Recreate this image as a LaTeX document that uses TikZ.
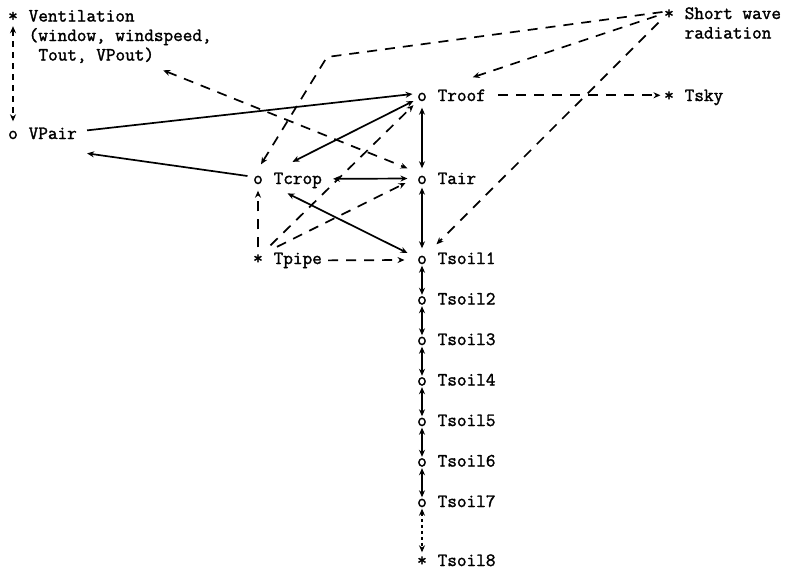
\documentclass[tikz,border=0pt]{standalone}
\usepackage{fontspec}
\newfontfamily\tyfont{Latin Modern Mono}[FakeBold=1.6]
\usetikzlibrary{arrows.meta,calc}

\tikzset{
  every node/.style={font=\fontsize{18.7}{19.5}\selectfont\tyfont, inner sep=0pt},
  mk/.style={anchor=base, inner sep=1.5pt, text height=8pt, text depth=0pt},
  lbl/.style={anchor=base west},
  conn/.style={line width=1.7pt, line cap=butt},
  tipend/.style={-{Stealth[length=7pt,width=6pt]}},
  tipboth/.style={{Stealth[length=7pt,width=6pt]}-{Stealth[length=7pt,width=6pt]}},
  dsh/.style={dash pattern=on 10pt off 8pt},
  dshs/.style={dash pattern=on 6pt off 5pt},
  dshf/.style={dash pattern=on 3pt off 3pt},
}

\begin{document}
\begin{tikzpicture}[x=1pt,y=-1pt]
  \useasboundingbox (0,0) rectangle (789,573);

  % --- state variables (o) and driving inputs (*) ---
  \node[mk] (vent) at (13,21.5) {*};
  \node[lbl] (vent-l)  at ([xshift=15.5pt]vent.base) {Ventilation};
  \node[lbl] (vent-l2) at ([xshift=15.5pt,yshift=-19.5pt]vent.base) {(window, windspeed,};
  \node[lbl] (vent-l3) at ([xshift=25.3pt,yshift=-39pt]vent.base) {Tout, VPout)};

  \node[mk] (vpair) at (13,139) {o};
  \node[lbl] (vpair-l) at ([xshift=15.5pt]vpair.base) {VPair};

  \node[mk] (troof) at (422,101) {o};
  \node[lbl] (troof-l) at ([xshift=15.5pt]troof.base) {Troof};

  \node[mk] (tair) at (422,184) {o};
  \node[lbl] (tair-l) at ([xshift=15.5pt]tair.base) {Tair};

  \node[mk] (tcrop) at (258,184) {o};
  \node[lbl] (tcrop-l) at ([xshift=15.5pt]tcrop.base) {Tcrop};

  \node[mk] (tpipe) at (258,264) {*};
  \node[lbl] (tpipe-l) at ([xshift=15.5pt]tpipe.base) {Tpipe};

  \foreach \k/\b in {1/264,2/304.5,3/345,4/385.5,5/426,6/466.5,7/507}{
    \node[mk] (tsoil\k) at (422,\b) {o};
    \node[lbl] (tsoil\k-l) at ([xshift=15.5pt]tsoil\k.base) {Tsoil\k};
  }
  \node[mk] (tsoil8) at (422,566) {*};
  \node[lbl] (tsoil8-l) at ([xshift=15.5pt]tsoil8.base) {Tsoil8};

  \node[mk] (short) at (669,19) {*};
  \node[lbl] (short-l)  at ([xshift=15.5pt]short.base) {Short wave};
  \node[lbl] (short-l2) at ([xshift=15.5pt,yshift=-19.5pt]short.base) {radiation};

  \node[mk] (tsky) at (669,101) {*};
  \node[lbl] (tsky-l) at ([xshift=15.5pt]tsky.base) {Tsky};

  \coordinate (swbend) at (327,57);

  % --- ventilation ---
  \draw[conn,dshs,tipboth,shorten <=3pt,shorten >=8pt] (vent) -- (vpair);
  \draw[conn,dsh,tipboth] ([xshift=9pt,yshift=-7pt]vent-l3.south east) -- ([xshift=-8pt,yshift=6pt]tair.north west);

  % --- vapour pressure ---
  \draw[conn,tipend] ([xshift=10pt,yshift=3pt]vpair-l.east) -- ([xshift=-3pt,yshift=3pt]troof.west);
  \draw[conn,tipend] ([xshift=-4pt,yshift=4pt]tcrop.west) -- ([xshift=10pt,yshift=-20pt]vpair-l.east);

  % --- short wave radiation ---
  \draw[conn,dsh,tipend] ([yshift=3pt]short.west) -- (swbend) -- ([xshift=3pt,yshift=10pt]tcrop.north);
  \draw[conn,dsh,tipend] ([xshift=-6pt,yshift=-1pt]short.west) -- ([xshift=11pt,yshift=12pt]troof-l.north);
  \draw[conn,dsh,tipend] ([xshift=-4pt,yshift=-2pt]short.south west) -- ([xshift=8pt,yshift=10pt]tsoil1.north east);

  % --- roof to sky ---
  \draw[conn,dsh,tipend] ([xshift=12pt]troof-l.east) -- ([xshift=-2pt]troof-l.east -| tsky.west);

  % --- exchanges between greenhouse elements ---
  \draw[conn,tipboth,shorten <=5pt,shorten >=6pt] (troof) -- (tair);
  \draw[conn,tipboth,shorten <=2pt,shorten >=6pt] (tair) -- (tsoil1);
  \draw[conn,tipboth] ([xshift=-2pt,yshift=-4pt]troof.west) -- ([xshift=19pt,yshift=10.5pt]tcrop-l.north west);
  \draw[conn,tipboth] ([xshift=11pt,yshift=1.5pt]tcrop-l.east) -- ([xshift=-8pt,yshift=1.5pt]tair.west);
  \draw[conn,tipboth] ([xshift=-8pt,yshift=7pt]tsoil1.west) -- ([xshift=14pt,yshift=-5pt]tcrop-l.south west);

  % --- heating pipe ---
  \draw[conn,dsh,tipend] ([xshift=6pt,yshift=9pt]tpipe.north east) -- ([xshift=-2pt,yshift=-2.5pt]troof.south west);
  \draw[conn,dsh,tipend] ([xshift=12.5pt,yshift=7.5pt]tpipe.north east) -- ([xshift=-10pt,yshift=-3pt]tair.west);
  \draw[conn,dsh,tipend,shorten <=7pt,shorten >=5pt] (tpipe) -- (tcrop);
  \draw[conn,dsh,tipend] ([xshift=6pt]tpipe-l.east) -- ([xshift=-11pt]tsoil1.west);

  % --- soil layers ---
  \foreach \k in {1,...,6}{
    \pgfmathtruncatemacro{\n}{\k+1}
    \draw[conn,tipboth] (tsoil\k) -- (tsoil\n);
  }
  \draw[conn,dshf,tipboth,shorten >=4pt] (tsoil7) -- (tsoil8);
\end{tikzpicture}
\end{document}
